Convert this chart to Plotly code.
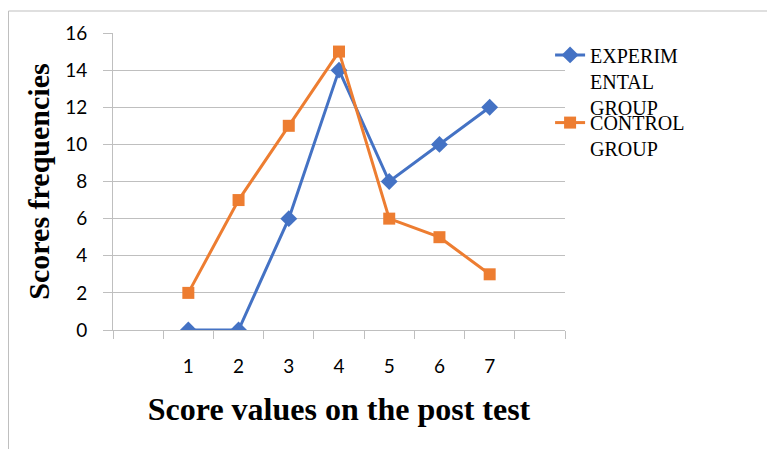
import plotly.graph_objects as go

scores = [1, 2, 3, 4, 5, 6, 7]
tick_labels = ["1", "2", "3", "4", "5", "6", "7"]
experimental = [0, 0, 6, 14, 8, 10, 12]
control = [2, 7, 11, 15, 6, 5, 3]

BLUE = "#4472C4"
ORANGE = "#ED7D31"
GRID = "#BFBFBF"

fig = go.Figure()
fig.add_trace(go.Scatter(
    x=scores, y=experimental, mode="lines+markers",
    name="EXPERIM<br>ENTAL<br>GROUP",
    line=dict(color=BLUE, width=3),
    marker=dict(symbol="diamond", size=13, color=BLUE),
    legend="legend",
))
fig.add_trace(go.Scatter(
    x=scores, y=control, mode="lines+markers",
    name="CONTROL<br>GROUP",
    line=dict(color=ORANGE, width=3),
    marker=dict(symbol="square", size=12, color=ORANGE),
    legend="legend2",
))

boundaries = [i - 0.5 for i in range(0, 10)]
legend_font = dict(family="Liberation Serif", size=20, color="black")

fig.update_layout(
    width=767, height=441,
    margin=dict(l=105, r=210, t=25, b=119),
    paper_bgcolor="white", plot_bgcolor="white",
    showlegend=True,
    legend=dict(
        x=0.967, xanchor="left", y=0.992, yanchor="top",
        font=legend_font, valign="top", bgcolor="rgba(0,0,0,0)",
    ),
    legend2=dict(
        x=0.967, xanchor="left", y=0.764, yanchor="top",
        font=legend_font, valign="top", bgcolor="rgba(0,0,0,0)",
    ),
    xaxis=dict(
        range=[-0.5, 8.5],
        tickmode="array", tickvals=scores, ticktext=tick_labels,
        ticks="", showgrid=False, zeroline=False,
        showline=True, linecolor=GRID, linewidth=1,
        tickfont=dict(family="Lato", size=19, color="black"),
        ticklabelstandoff=19,
        minor=dict(tickmode="array", tickvals=boundaries, ticks="outside",
                   ticklen=8, tickcolor=GRID, tickwidth=1, showgrid=False),
        title=dict(text="<b>Score values on the post test</b>",
                   font=dict(family="Liberation Serif", size=32, color="black"),
                   standoff=21),
    ),
    yaxis=dict(
        range=[0, 16], tickmode="array", tickvals=list(range(0, 17, 2)),
        ticks="outside", ticklen=9, tickcolor=GRID,
        showgrid=True, gridcolor=GRID, gridwidth=1,
        zeroline=False, showline=True, linecolor=GRID, linewidth=1,
        tickfont=dict(family="Lato", size=19, color="black"),
        ticklabelstandoff=12,
        title=dict(text="<b>Scores frequencies</b>",
                   font=dict(family="Liberation Serif", size=30, color="black"),
                   standoff=6),
    ),
)

# outer chart border (top and left edges visible)
x_left = (8.5 - 113) / 452
x_right = (775 - 113) / 452
y_top = (330 - 11) / 297
y_bottom = (330 - 449) / 297
fig.add_shape(type="line", xref="paper", yref="paper",
              x0=x_left, x1=x_right, y0=y_top, y1=y_top,
              line=dict(color="#BFBFBF", width=1))
fig.add_shape(type="line", xref="paper", yref="paper",
              x0=x_left, x1=x_left, y0=y_top, y1=y_bottom,
              line=dict(color="#BFBFBF", width=1))

fig.write_html("out.html")
